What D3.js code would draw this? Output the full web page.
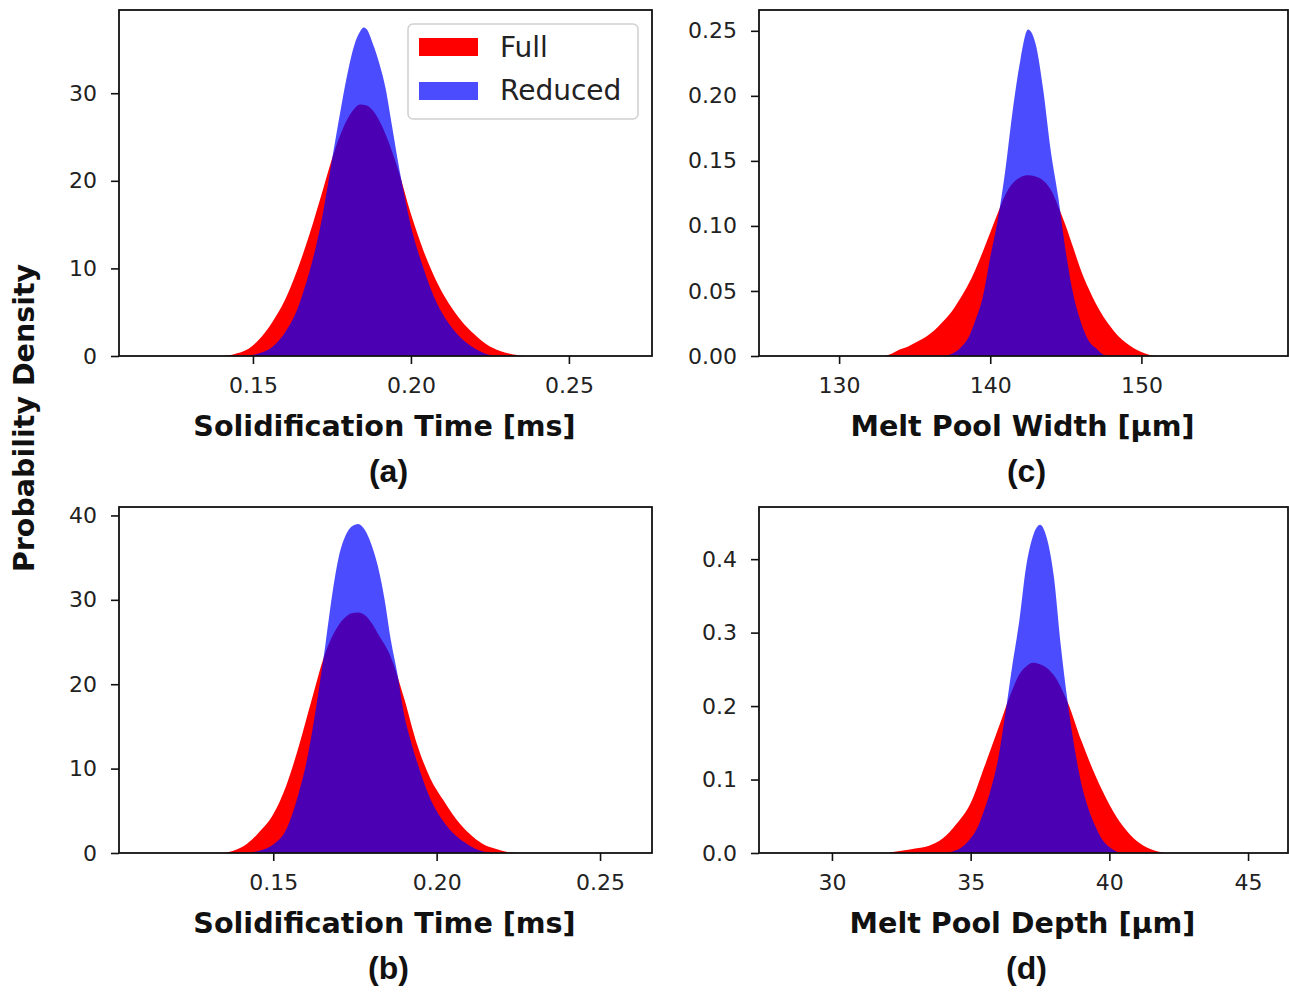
<!DOCTYPE html>
<html><head><meta charset="utf-8">
<script src="https://cdn.jsdelivr.net/npm/d3@7"></script>
<style>body{margin:0;background:#fff}</style>
</head><body>
<svg id="chart" width="1289" height="998"></svg>
<script>
const seriesNames = ["Full", "Reduced"];

// (a) Solidification Time [ms]
const aFullX = [0.140,0.144,0.148,0.152,0.156,0.160,0.164,0.168,0.172,0.176,0.180,0.182,0.184,0.186,0.188,0.192,0.196,0.200,0.204,0.208,0.212,0.216,0.220,0.224,0.228,0.232,0.236];
const aFullY = [0,0.2,0.7,1.9,3.8,6.3,9.8,14.0,18.8,23.6,27.1,28.2,28.7,28.6,28.0,25.3,21.2,16.2,12.0,8.6,6.0,4.0,2.5,1.3,0.6,0.2,0];
const aRedX  = [0.148,0.152,0.156,0.160,0.164,0.166,0.168,0.170,0.172,0.174,0.176,0.178,0.180,0.182,0.184,0.185,0.186,0.188,0.190,0.192,0.194,0.196,0.198,0.200,0.204,0.208,0.212,0.216,0.220,0.224,0.228];
const aRedY  = [0,0.3,1.0,2.6,5.3,7.4,9.8,12.6,16.0,20.2,24.5,28.6,32.4,35.4,37.1,37.5,37.3,35.6,33.4,30.5,26.3,22.0,18.2,14.8,10.0,6.2,3.7,2.0,0.9,0.2,0];
const aXTicks = [0.15,0.20,0.25];
const aYTicks = [0,10,20,30];

// (b) Solidification Time [ms]
const bFullX = [0.134,0.138,0.142,0.146,0.150,0.154,0.158,0.162,0.166,0.170,0.172,0.174,0.176,0.178,0.180,0.182,0.186,0.190,0.194,0.198,0.202,0.206,0.210,0.214,0.218,0.222,0.226];
const bFullY = [0,0.3,1.1,2.6,4.6,8.0,12.9,18.5,23.8,27.0,27.9,28.4,28.5,28.2,27.3,26.0,23.2,18.4,12.9,8.9,6.3,4.0,2.3,1.1,0.5,0.1,0];
const bRedX  = [0.142,0.146,0.150,0.154,0.158,0.160,0.162,0.164,0.166,0.168,0.170,0.172,0.174,0.176,0.178,0.180,0.182,0.184,0.186,0.188,0.190,0.192,0.194,0.198,0.202,0.206,0.210,0.214,0.218];
const bRedY  = [0,0.3,1.0,2.8,7.4,10.5,14.6,19.5,24.8,30.5,35.0,37.5,38.7,39.0,38.3,36.6,34.0,30.2,25.2,21.2,16.5,13.4,10.8,6.5,3.8,2.0,0.9,0.2,0];
const bXTicks = [0.15,0.20,0.25];
const bYTicks = [0,10,20,30,40];

// (c) Melt Pool Width [µm]
const cFullX = [133.0,133.5,134.0,134.5,135.0,135.5,136.0,136.5,137.0,137.5,138.0,138.5,139.0,139.5,140.0,140.5,141.0,141.5,142.0,142.5,143.0,143.5,144.0,144.5,145.0,145.5,146.0,146.5,147.0,147.5,148.0,148.5,149.0,149.5,150.0,150.5,151.0];
const cFullY = [0,0.002,0.005,0.007,0.010,0.013,0.017,0.022,0.028,0.035,0.044,0.054,0.066,0.080,0.095,0.110,0.124,0.133,0.1375,0.139,0.138,0.135,0.128,0.115,0.100,0.083,0.066,0.052,0.040,0.030,0.022,0.015,0.010,0.006,0.003,0.001,0];
const cRedX  = [137.0,137.5,138.0,138.5,139.0,139.5,140.0,140.5,141.0,141.5,142.0,142.5,143.0,143.5,144.0,144.5,145.0,145.5,146.0,146.5,147.0,147.5,148.0];
const cRedY  = [0,0.002,0.006,0.013,0.027,0.045,0.076,0.105,0.143,0.190,0.228,0.251,0.240,0.205,0.158,0.122,0.080,0.047,0.026,0.012,0.006,0.001,0];
const cXTicks = [130,140,150];
const cYTicks = [0,0.05,0.10,0.15,0.20,0.25];

// (d) Melt Pool Depth [µm]
const dFullX = [32.0,32.5,33.0,33.5,34.0,34.5,35.0,35.5,36.0,36.5,36.75,37.0,37.25,37.5,37.75,38.0,38.5,39.0,39.5,40.0,40.5,41.0,41.5,42.0];
const dFullY = [0,0.003,0.006,0.010,0.020,0.040,0.068,0.118,0.170,0.222,0.243,0.254,0.259,0.257,0.252,0.242,0.205,0.152,0.105,0.066,0.036,0.016,0.005,0];
const dRedX  = [34.00,34.25,34.50,34.75,35.00,35.25,35.50,35.75,36.00,36.25,36.50,36.75,37.00,37.25,37.50,37.75,38.00,38.25,38.50,38.75,39.00,39.25,39.50,39.75,40.00,40.25,40.50];
const dRedY  = [0,0.001,0.004,0.010,0.020,0.035,0.060,0.090,0.130,0.190,0.255,0.315,0.390,0.432,0.447,0.428,0.376,0.282,0.205,0.142,0.093,0.060,0.036,0.018,0.008,0.002,0];
const dXTicks = [30,35,40,45];
const dYTicks = [0,0.1,0.2,0.3,0.4];

const xTitles = ["Solidification Time [ms]", "Solidification Time [ms]", "Melt Pool Width [µm]", "Melt Pool Depth [µm]"];
const panelLabels = ["(a)", "(b)", "(c)", "(d)"];

const panels = [
  {box:[119,10,652,356], xd:[0.1076,0.2763], yd:[0,39.5], xt:aXTicks, yt:aYTicks, xf:d3.format(".2f"), yf:d3.format("d"),
   full:d3.zip(aFullX,aFullY), red:d3.zip(aRedX,aRedY), title:xTitles[0], label:panelLabels[0], legend:true},
  {box:[119,507,652,853], xd:[0.1028,0.2659], yd:[0,41.0], xt:bXTicks, yt:bYTicks, xf:d3.format(".2f"), yf:d3.format("d"),
   full:d3.zip(bFullX,bFullY), red:d3.zip(bRedX,bRedY), title:xTitles[1], label:panelLabels[1]},
  {box:[759,10,1288,356], xd:[124.7,159.7], yd:[0,0.266], xt:cXTicks, yt:cYTicks, xf:d3.format("d"), yf:d3.format(".2f"),
   full:d3.zip(cFullX,cFullY), red:d3.zip(cRedX,cRedY), title:xTitles[2], label:panelLabels[2]},
  {box:[759,507,1288,853], xd:[27.37,46.44], yd:[0,0.471], xt:dXTicks, yt:dYTicks, xf:d3.format("d"), yf:d3.format(".1f"),
   full:d3.zip(dFullX,dFullY), red:d3.zip(dRedX,dRedY), title:xTitles[3], label:panelLabels[3]}
];

const colors = {full:"#ff0000", reduced:"#0000ff"};
const svg = d3.select("#chart");
const tickFont = "DejaVu Sans, sans-serif";

panels.forEach((p, i) => {
  const [x0,y0,x1,y1] = p.box;
  const x = d3.scaleLinear().domain(p.xd).range([x0,x1]);
  const y = d3.scaleLinear().domain(p.yd).range([y1,y0]);
  const g = svg.append("g");
  const cid = "clip" + i;
  svg.append("clipPath").attr("id", cid).append("rect")
    .attr("x", x0).attr("y", y0).attr("width", x1-x0).attr("height", y1-y0);
  const area = d3.area().x(d => x(d[0])).y0(y(0)).y1(d => y(d[1])).curve(d3.curveMonotoneX);
  const plot = g.append("g").attr("clip-path", `url(#${cid})`);
  plot.append("path").datum(p.full).attr("d", area).attr("fill", colors.full);
  plot.append("path").datum(p.red).attr("d", area).attr("fill", colors.reduced).attr("fill-opacity", 0.7);

  const xa = g.append("g").attr("transform", `translate(0,${y1})`)
    .call(d3.axisBottom(x).tickValues(p.xt).tickFormat(p.xf).tickSize(8).tickPadding(13));
  const ya = g.append("g").attr("transform", `translate(${x0},0)`)
    .call(d3.axisLeft(y).tickValues(p.yt).tickFormat(p.yf).tickSize(8).tickPadding(14));
  [xa, ya].forEach(a => {
    a.select(".domain").remove();
    a.selectAll(".tick line").attr("stroke", "#111").attr("stroke-width", 1.6);
    a.selectAll(".tick text").attr("font-family", tickFont).attr("font-size", 22).attr("fill", "#222");
  });

  g.append("rect").attr("x", x0).attr("y", y0).attr("width", x1-x0).attr("height", y1-y0)
    .attr("fill", "none").attr("stroke", "#111").attr("stroke-width", 1.8);

  const cx = (x0 + x1) / 2;
  g.append("text").attr("x", cx - 1).attr("y", y1 + 80)
    .attr("text-anchor", "middle").attr("font-family", "DejaVu Sans, sans-serif")
    .attr("font-weight", "bold").attr("font-size", 28.6).attr("fill", "#111").text(p.title);
  g.append("text").attr("x", cx + 3).attr("y", y1 + 126)
    .attr("text-anchor", "middle").attr("font-family", "Liberation Sans, Arial, sans-serif")
    .attr("font-weight", "bold").attr("font-size", 32).attr("fill", "#111").text(p.label);

  if (p.legend) {
    const lg = g.append("g");
    lg.append("rect").attr("x", 408).attr("y", 24).attr("width", 230).attr("height", 95).attr("rx", 5)
      .attr("fill", "#fff").attr("fill-opacity", 0.85).attr("stroke", "#d0d0d0").attr("stroke-width", 1.5);
    const ent = [{n:seriesNames[0], c:colors.full, o:1}, {n:seriesNames[1], c:colors.reduced, o:0.7}];
    ent.forEach((e, k) => {
      lg.append("rect").attr("x", 419).attr("y", 38 + k*44).attr("width", 59).attr("height", 18)
        .attr("fill", e.c).attr("fill-opacity", e.o);
      lg.append("text").attr("x", 500).attr("y", 57 + k*43).attr("font-family", "DejaVu Sans, sans-serif")
        .attr("font-size", 28).attr("fill", "#222").text(e.n);
    });
  }
});

svg.append("text").attr("transform", "translate(34,418) rotate(-90)")
  .attr("text-anchor", "middle").attr("font-family", "DejaVu Sans, sans-serif")
  .attr("font-weight", "bold").attr("font-size", 28.5).attr("fill", "#111").text("Probability Density");
</script>
</body></html>
